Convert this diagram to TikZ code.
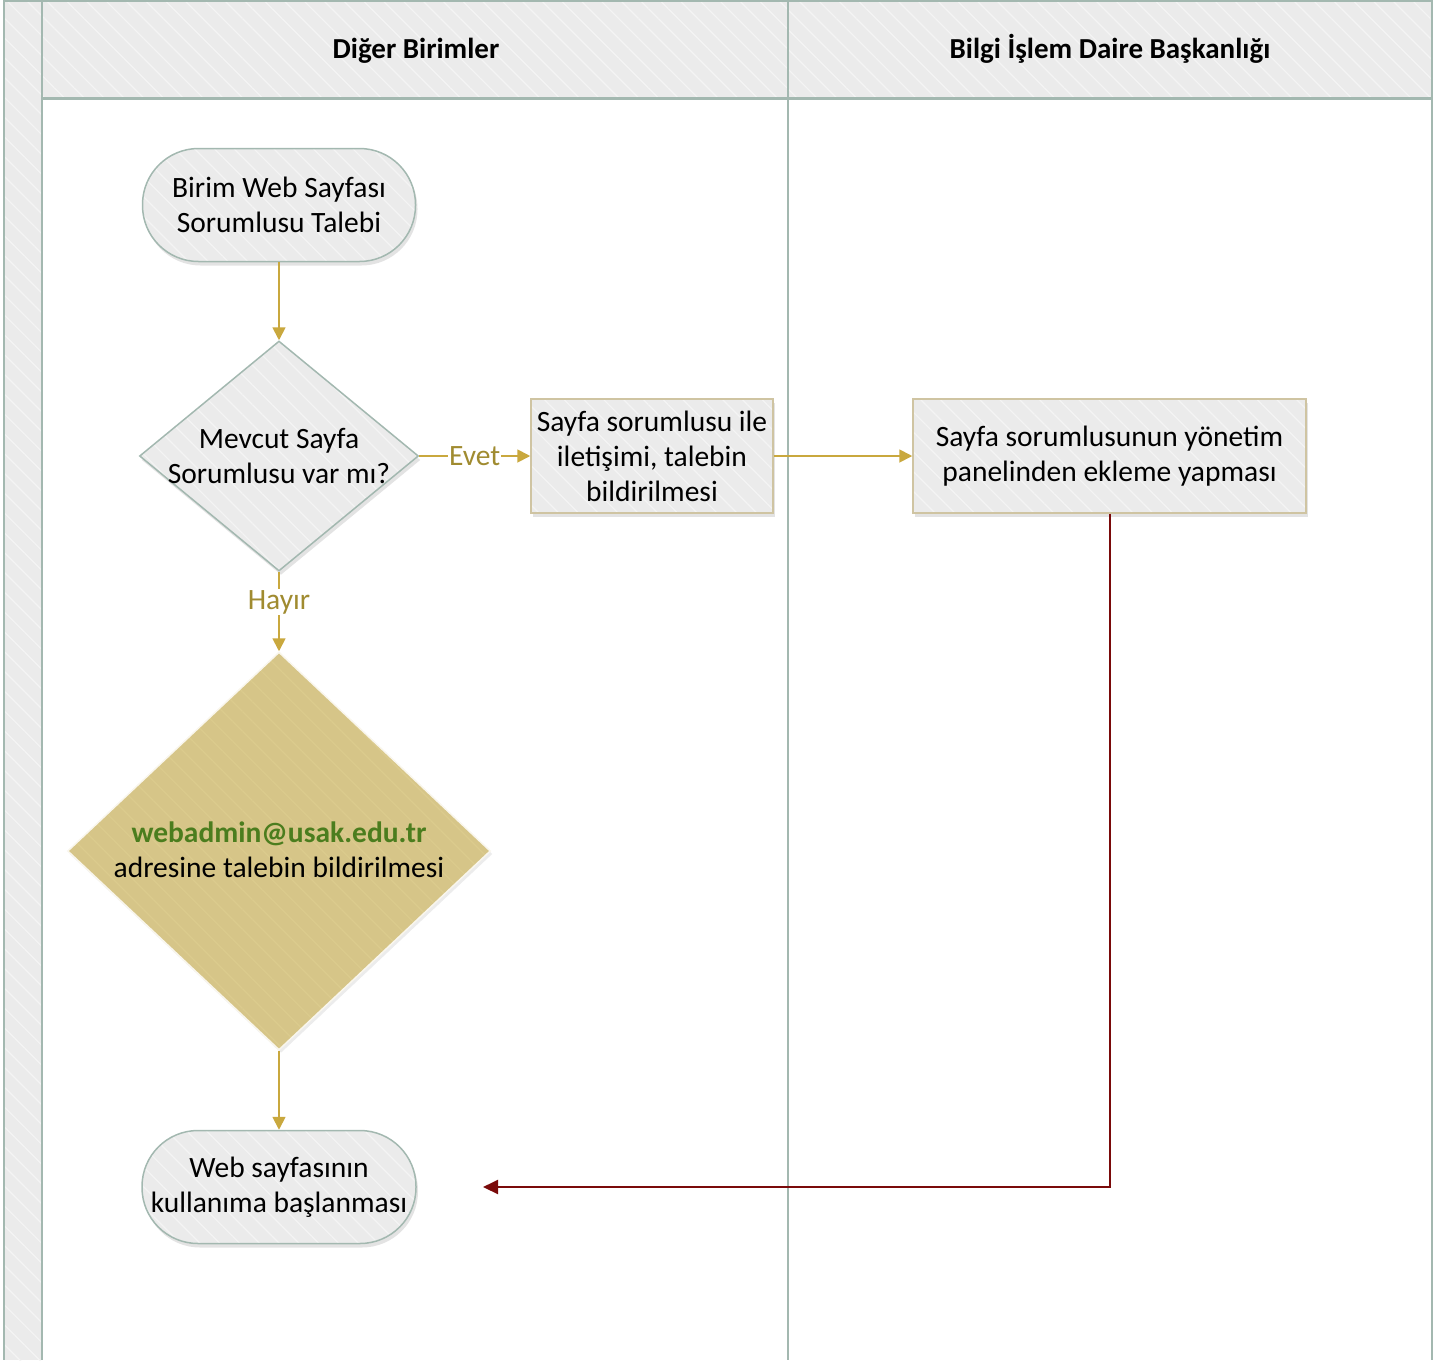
\documentclass[tikz,border=0pt]{standalone}
\usepackage{fontspec}
\setmainfont{Carlito}
\usetikzlibrary{shapes.geometric,arrows.meta,shadows,patterns.meta}
\definecolor{lanegray}{HTML}{EBEBEB}
\definecolor{laneline}{HTML}{A3B8B0}
\definecolor{boxline}{HTML}{CFC4A2}
\definecolor{goldarrow}{HTML}{C9A83E}
\definecolor{labelgold}{HTML}{A08B30}
\definecolor{tanfill}{HTML}{D6C588}
\definecolor{tanstripe}{HTML}{DBCB8D}
\definecolor{mailgreen}{HTML}{4B7D1E}
\definecolor{darkred}{HTML}{7A0A0A}
\begin{document}
\begin{tikzpicture}[x=1pt,y=-1pt,
  txt/.style={font=\fontsize{29.5pt}{35pt}\selectfont, align=center, text=black},
  hatch/.style={postaction={pattern={Lines[angle=-45,distance=14pt,line width=1.2pt]}, pattern color=white!45!lanegray}},
  grayfill/.style={preaction={fill=lanegray}, preaction={pattern={Lines[angle=-45,distance=14pt,line width=1.2pt]}, pattern color=white!45!lanegray}},
  shadowed/.style={drop shadow={opacity=0.22, shadow xshift=2pt, shadow yshift=-4pt}},
  term/.style={txt, shadowed, grayfill, draw=laneline, line width=1.5pt, rounded corners=56pt},
  decision/.style={diamond, shadowed, grayfill, draw=laneline, line width=1.5pt, inner sep=0pt},
  procbox/.style={txt, shadowed, grayfill, draw=boxline, line width=1.5pt, inner sep=0pt},
  goldflow/.style={draw=goldarrow, line width=1.8pt, -{Triangle[width=13pt,length=13pt]}},
  redflow/.style={draw=darkred, line width=2pt, -{Triangle[width=14pt,length=15pt]}},
  flowlabel/.style={font=\fontsize{29.5pt}{35pt}\selectfont, text=labelgold, fill=white, inner sep=1pt},
  header/.style={font=\bfseries\fontsize{29pt}{34pt}\selectfont, text=black, anchor=base}
]
\useasboundingbox (0,0) rectangle (1445,1360);
% lanes background
\fill[lanegray, hatch] (4,0) rectangle (42,1360);
\fill[lanegray, hatch] (42,0) rectangle (1432,98);
\draw[laneline, line width=1.5pt] (4,1) -- (1432,1);
\draw[laneline, line width=1.5pt] (4,0) -- (4,1360);
\draw[laneline, line width=2pt] (42,0) -- (42,1360);
\draw[laneline, line width=2pt] (788,0) -- (788,1360);
\draw[laneline, line width=2pt] (1432,0) -- (1432,1360);
\draw[laneline, line width=3pt] (42,98) -- (1432,98);
\node[header] (h1) at (416,58) {Diğer Birimler};
\node[header] (h2) at (1110,58) {Bilgi İşlem Daire Başkanlığı};

% nodes
\node[term, minimum width=273pt, minimum height=113pt] (start) at (279,205) {Birim Web Sayfası\\Sorumlusu Talebi};
\node[decision, minimum width=279pt, minimum height=230pt] (d1) at (279,456) {};
\node[txt] (d1t) at (279,456) {Mevcut Sayfa\\Sorumlusu var mı?};
\node[procbox, minimum width=242pt, minimum height=114pt] (b1) at (652,456) {Sayfa sorumlusu ile\\iletişimi, talebin\\bildirilmesi};
\node[procbox, minimum width=393pt, minimum height=114pt] (b2) at (1109.5,456) {Sayfa sorumlusunun yönetim\\panelinden ekleme yapması};
\node[diamond, inner sep=0pt,
      drop shadow={opacity=0.15, shadow xshift=2pt, shadow yshift=-3pt},
      preaction={fill=tanfill},
      preaction={pattern={Lines[angle=-45,distance=14pt,line width=1.2pt]}, pattern color=tanstripe},
      draw=white!85!tanfill, line width=1.5pt,
      minimum width=423pt, minimum height=398pt] (d2) at (279,851) {};
\node[txt] (d2t) at (279,850) {\textcolor{mailgreen}{\bfseries webadmin@usak.edu.tr}\\adresine talebin bildirilmesi};
\node[term, minimum width=274pt, minimum height=113pt] (end) at (279,1187) {Web sayfasının\\kullanıma başlanması};
\coordinate (redend) at (483,1187);

% connectors
\draw[goldflow] (start.south) -- (d1.north);
\draw[goldflow] (d1.east) -- node[flowlabel] {Evet} (b1.west);
\draw[goldflow] (b1.east) -- (b2.west);
\draw[goldflow] (d1.south) -- node[flowlabel, pos=0.38] {Hayır} (d2.north);
\draw[goldflow] (d2.south) -- (end.north);
\draw[redflow] (b2.south) |- (redend);
\end{tikzpicture}
\end{document}
